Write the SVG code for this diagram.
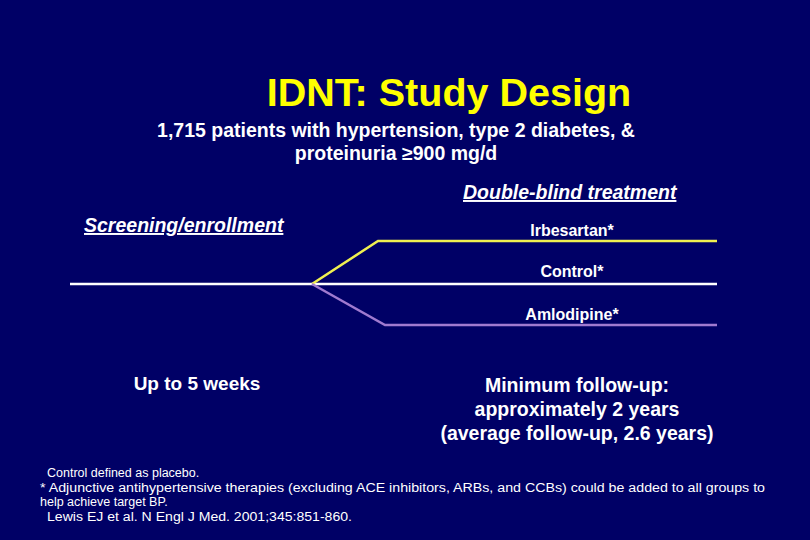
<svg xmlns="http://www.w3.org/2000/svg" width="810" height="540" viewBox="0 0 810 540">
<style>
text{font-family:"Liberation Sans",Arial,sans-serif;fill:#fff}
.b{font-weight:bold}
.u{text-decoration:underline;font-style:italic;font-weight:bold;font-size:19.5px}
.arm{font-weight:bold;font-size:16px;text-anchor:middle}
.fn{font-size:12.5px}
</style>
<rect width="810" height="540" fill="#000066"/>
<g id="title"><text x="449" y="106" text-anchor="middle" class="b" style="fill:#ffff00;font-size:39.5px">IDNT: Study Design</text></g>
<g id="population" style="font-size:19.5px"><text x="396" y="137" text-anchor="middle" class="b">1,715 patients with hypertension, type 2 diabetes, &amp;</text><text x="396" y="160" text-anchor="middle" class="b">proteinuria ≥900 mg/d</text></g>
<g id="connectors" fill="none" stroke-width="2.5">
<line x1="70" y1="284" x2="717" y2="284" stroke="#ffffff"/>
<polyline points="312,284 378,241 717,241" stroke="#f0f050"/>
<polyline points="312,284 385,325 717,325" stroke="#a07ad0"/>
</g>
<g id="screening"><text x="84" y="232" class="u">Screening/enrollment</text></g>
<g id="double-blind"><text x="463" y="199" class="u">Double-blind treatment</text></g>
<g id="irbesartan"><text x="572" y="236" class="arm">Irbesartan*</text></g>
<g id="control"><text x="572" y="277" class="arm">Control*</text></g>
<g id="amlodipine"><text x="572" y="320" class="arm">Amlodipine*</text></g>
<g id="weeks"><text x="197" y="390" text-anchor="middle" class="b" style="font-size:19px">Up to 5 weeks</text></g>
<g id="followup" style="font-size:19.5px"><text x="577" y="392" text-anchor="middle" class="b">Minimum follow-up:</text><text x="577" y="416" text-anchor="middle" class="b">approximately 2 years</text><text x="577" y="440" text-anchor="middle" class="b">(average follow-up, 2.6 years)</text></g>
<g id="footnotes">
<text x="47" y="477" class="fn">Control defined as placebo.</text>
<text x="40" y="492" class="fn" textLength="725" lengthAdjust="spacingAndGlyphs">* Adjunctive antihypertensive therapies (excluding ACE inhibitors, ARBs, and CCBs) could be added to all groups    to</text>
<text x="40" y="506" class="fn">help achieve target BP.</text>
<text x="47" y="521" class="fn" textLength="305" lengthAdjust="spacingAndGlyphs">Lewis EJ et al. N Engl J Med. 2001;345:851-860.</text>
</g>
</svg>
